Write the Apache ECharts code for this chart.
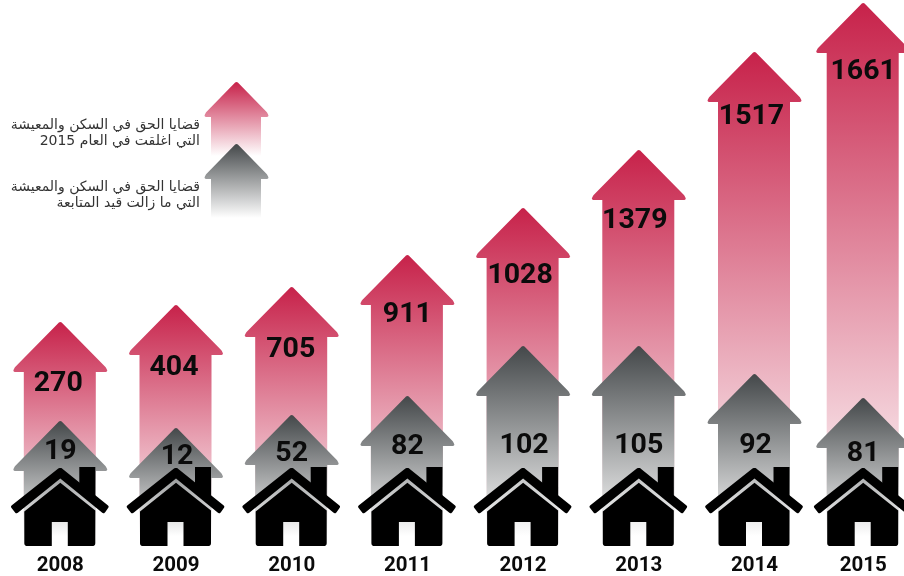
<!DOCTYPE html>
<html>
<head>
<meta charset="utf-8">
<style>html,body{margin:0;padding:0;background:#fff}#chart{width:904px;height:576px}</style>
<script src="https://cdn.jsdelivr.net/npm/echarts@6/dist/echarts.min.js"></script>
</head>
<body>
<div id="chart"></div>
<script>
// Right-to-housing cases per year
const years = ['2008', '2009', '2010', '2011', '2012', '2013', '2014', '2015'];
const closedCases = [270, 404, 705, 911, 1028, 1379, 1517, 1661];
const openCases = [19, 12, 52, 82, 102, 105, 92, 81];
const closedName = ['قضايا الحق في السكن والمعيشة', 'التي اغلقت في العام 2015'];
const openName = ['قضايا الحق في السكن والمعيشة', 'التي ما زالت قيد المتابعة'];

// The infographic's arrows are not to a linear scale: each stretch of the
// value axis gets its own share of the axis height.
const axisBreaks = [
  { start: 12, end: 19, gap: 7 }, { start: 19, end: 52, gap: 6 },
  { start: 52, end: 81, gap: 17 }, { start: 81, end: 82, gap: 2 },
  { start: 82, end: 92, gap: 22 }, { start: 92, end: 102, gap: 28 },
  { start: 102, end: 105, gap: 0 }, { start: 105, end: 270, gap: 24 },
  { start: 270, end: 404, gap: 17 }, { start: 404, end: 705, gap: 18 },
  { start: 705, end: 911, gap: 32 }, { start: 911, end: 1028, gap: 47 },
  { start: 1028, end: 1379, gap: 58 }, { start: 1379, end: 1517, gap: 98 },
  { start: 1517, end: 1661, gap: 49 }
];
const gridTop = 3, gridBottom = 40, axisHeight = 576 - gridTop - gridBottom;

// Layout of the value labels under each arrow tip, and the narrower last column
const closedLabelDrop = [62, 63, 63, 60, 68, 71, 65, 69];
const openLabelDrop = [31, 29, 39, 51, 100, 100, 72, 56];
const closedLabelShift = [-2, -2, -1, 0, -3, -4, -3, 0];
const openLabelShift = [0, 1, 0, 0, 1, 0, 1, 0];
const columnNudge = [0, 0, 0, 0, 0, 0, 0, -7];

const RED = '#c7224a', GREY = '#44484a';
const NUMBER_FONT = 'Roboto';

// Replaces the sharp corners of a polygon by short arcs
function roundCorners(pts, radii) {
  const out = [];
  pts.forEach(function (p, i) {
    const r = radii[i];
    if (!r) { out.push(p); return; }
    const a = pts[(i + pts.length - 1) % pts.length], b = pts[(i + 1) % pts.length];
    const la = Math.hypot(a[0] - p[0], a[1] - p[1]), lb = Math.hypot(b[0] - p[0], b[1] - p[1]);
    const s = [p[0] + (a[0] - p[0]) * r / la, p[1] + (a[1] - p[1]) * r / la];
    const e = [p[0] + (b[0] - p[0]) * r / lb, p[1] + (b[1] - p[1]) * r / lb];
    for (let k = 0; k <= 6; k++) {
      const t = k / 6, u = 1 - t;
      out.push([u * u * s[0] + 2 * u * t * p[0] + t * t * e[0], u * u * s[1] + 2 * u * t * p[1] + t * t * e[1]]);
    }
  });
  return out;
}

// The rounded tip sits one pixel under the sharp apex, hence the lift
function arrowPoints(cx, top, bottom, headHalf, headHeight, shaftHalf) {
  const wing = top + headHeight;
  return roundCorners([
    [cx, top - 1], [cx + headHalf, wing], [cx + headHalf, wing + 3], [cx + shaftHalf, wing + 3],
    [cx + shaftHalf, bottom], [cx - shaftHalf - 1, bottom], [cx - shaftHalf - 1, wing + 3],
    [cx - headHalf, wing + 3], [cx - headHalf, wing]
  ], [3, 3, 2, 0, 0, 0, 0, 2, 3]);
}

function fade(color) {
  return new echarts.graphic.LinearGradient(0, 0, 0, 1, [
    { offset: 0, color: color }, { offset: 1, color: '#ffffff' }
  ]);
}

function arrowSeries(name, values, color, drops, shifts, z) {
  return {
    type: 'custom', name: name, z: z, clip: false,
    data: values.map(function (v, i) { return [i, v]; }),
    renderItem: function (params, api) {
      const i = api.value(0);
      const tip = api.coord([i, api.value(1)]);
      const base = api.coord([i, 0]);
      const cx = tip[0] + columnNudge[i];
      return {
        type: 'group',
        children: [
          { type: 'polygon', shape: { points: arrowPoints(cx, tip[1], base[1], 47, 47, 35.5) }, style: { fill: fade(color) } },
          {
            type: 'text', z2: 5,
            style: {
              text: String(api.value(1)), x: cx + shifts[i], y: tip[1] + drops[i], align: 'center', verticalAlign: 'middle',
              fontFamily: NUMBER_FONT, fontWeight: 700, fontSize: 28.5, fill: '#0b0b0b'
            }
          }
        ]
      };
    }
  };
}

// House icon: roof chevron, chimney, and a body with a door notch
function houseSeries() {
  return {
    type: 'custom', name: 'house', z: 5, clip: false, silent: true,
    data: years.map(function (y, i) { return [i, 0]; }),
    renderItem: function (params, api) {
      const i = api.value(0);
      const p = api.coord([i, 0]);
      const cx = p[0] + columnNudge[i], y0 = p[1] - 69;
      const at = function (list) { return list.map(function (q) { return [cx + q[0], y0 + q[1]]; }); };
      const black = { fill: '#000' };
      return {
        type: 'group',
        children: [
          {
            type: 'polygon', style: black,
            shape: { points: at(roundCorners([[0, 0], [49, 39.5], [43.5, 47], [0, 11.5], [-44, 47], [-50, 39.5]], [3, 2, 2, 0, 2, 2])) }
          },
          { type: 'polygon', style: black, shape: { points: at([[19, 0], [35, 0], [35, 32], [19, 20]]) } },
          {
            type: 'polygon', style: black,
            shape: {
              points: at(roundCorners([[0, 15.7], [35, 43.5], [35, 79], [7.5, 79], [7.5, 55], [-8.5, 55], [-8.5, 79], [-36, 79], [-36, 44.5]],
                [0, 0, 3, 0, 0, 0, 0, 3, 0]))
            }
          }
        ]
      };
    }
  };
}

function legendArrow(top, color) {
  return { type: 'polygon', shape: { points: arrowPoints(236.5, top, top + 74, 32, 32, 24.5) }, style: { fill: fade(color) } };
}
function legendText(line, y) {
  return {
    type: 'text',
    style: { text: line, x: 200, y: y, align: 'right', verticalAlign: 'middle', fontFamily: 'DejaVu Sans', fontSize: 14, fill: '#333' }
  };
}

const chart = echarts.init(document.getElementById('chart'), null, { renderer: 'canvas' });
chart.setOption({
  animation: false,
  backgroundColor: '#fff',
  grid: { left: 60.3, right: 33.8, top: gridTop, bottom: gridBottom, containLabel: false },
  xAxis: {
    type: 'category', data: years, boundaryGap: false,
    axisLine: { show: false }, axisTick: { show: false },
    axisLabel: {
      interval: 0, margin: 19, fontFamily: NUMBER_FONT, fontWeight: 700, fontSize: 20.5, color: '#0b0b0b',
      formatter: function (v) { return v === years[years.length - 1] ? '{last|' + v + '}' : v; },
      rich: { last: { fontFamily: NUMBER_FONT, fontWeight: 700, fontSize: 20.5, color: '#0b0b0b', padding: [0, 14, 0, 0] } }
    }
  },
  yAxis: {
    type: 'value', min: 0, max: closedCases[closedCases.length - 1], show: false, splitLine: { show: false },
    breaks: axisBreaks.map(function (b) {
      return { start: b.start, end: b.end, gap: (b.gap / axisHeight * 100) + '%' };
    }),
    breakArea: { show: false }
  },
  graphic: [
    legendArrow(82, RED),
    legendArrow(144, GREY),
    legendText(closedName[0], 125), legendText(closedName[1], 141),
    legendText(openName[0], 187), legendText(openName[1], 203)
  ],
  series: [
    arrowSeries(closedName.join(' '), closedCases, RED, closedLabelDrop, closedLabelShift, 1),
    arrowSeries(openName.join(' '), openCases, GREY, openLabelDrop, openLabelShift, 2),
    houseSeries()
  ]
});
</script>
</body>
</html>
